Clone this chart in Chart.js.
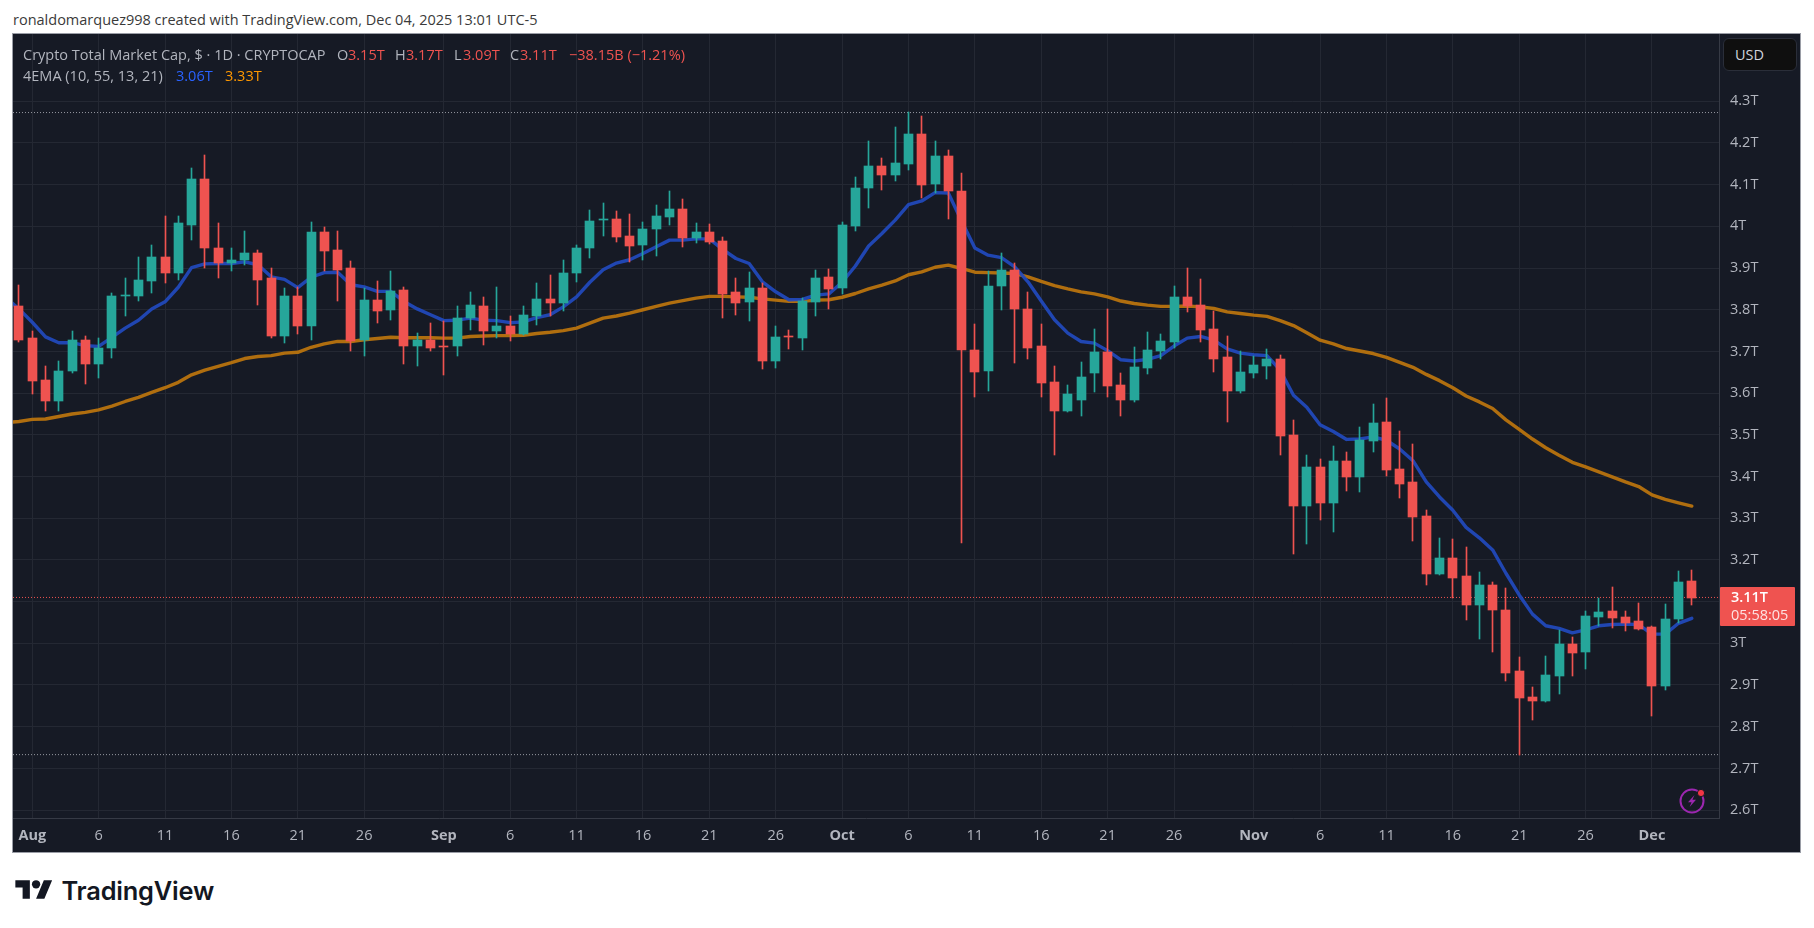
<!DOCTYPE html>
<html>
<head>
<meta charset="utf-8">
<title>Crypto Total Market Cap</title>
<script src="https://cdn.jsdelivr.net/npm/chart.js@4"></script>
<style>
  html, body { margin: 0; padding: 0; background: #fff; }
  body { width: 1814px; height: 928px; position: relative; overflow: hidden; font-family: "Open Sans", sans-serif; }
  #frame { position: absolute; left: 12px; top: 33px; width: 1787px; height: 818px; border: 1px solid #9a9da6; background: #161a25; }
  canvas { display: block; }
  .t { position: absolute; white-space: nowrap; font-size: 14.5px; line-height: 18px; color: #b2b5be; }
  .r { color: #ef5350; }
  #credit { left: 13px; top: 11px; color: #3a3a3a; }
  #usd { position: absolute; left: 1723px; top: 38px; width: 72px; height: 31px; border: 1px solid #2a2e39; border-radius: 6px; background: #0f0f0f; }
  #priceBox { position: absolute; left: 1720px; top: 587px; width: 75px; height: 39px; background: #ef5350; border-radius: 1px; }
  #tvText { position: absolute; left: 61.5px; top: 874px; font: 600 25.4px/34px Inter, sans-serif; letter-spacing: -0.2px; color: #131722; }
  svg { position: absolute; }
</style>
</head>
<body>
<div class="t" id="credit">ronaldomarquez998 created with TradingView.com, Dec 04, 2025 13:01 UTC-5</div>
<div id="frame"><canvas id="myChart" width="1787" height="818"></canvas></div>

<div class="t" style="left:23px;top:46px">Crypto Total Market Cap, $ · 1D · CRYPTOCAP</div>
<div class="t" style="left:337px;top:46px">O</div><div class="t r" style="left:348px;top:46px">3.15T</div>
<div class="t" style="left:395px;top:46px">H</div><div class="t r" style="left:406px;top:46px">3.17T</div>
<div class="t" style="left:454px;top:46px">L</div><div class="t r" style="left:463px;top:46px">3.09T</div>
<div class="t" style="left:510px;top:46px">C</div><div class="t r" style="left:520px;top:46px">3.11T</div>
<div class="t r" style="left:569px;top:46px">−38.15B (−1.21%)</div>
<div class="t" style="left:23px;top:67px">4EMA (10, 55, 13, 21)</div>
<div class="t" style="left:176px;top:67px;color:#2962ff">3.06T</div>
<div class="t" style="left:225px;top:67px;color:#ff9800">3.33T</div>

<div id="usd"></div>
<div class="t" style="left:1735px;top:46px;color:#d1d4dc">USD</div>
<div id="priceBox"></div>
<div class="t" style="left:1731px;top:588px;color:#fff;font-weight:600">3.11T</div>
<div class="t" style="left:1731px;top:606px;color:#fde3e3">05:58:05</div>

<svg style="left:1678px;top:787px" width="28" height="28" viewBox="0 0 28 28">
  <circle cx="14" cy="14" r="11.5" fill="none" stroke="#9c27b0" stroke-width="2"/>
  <path d="M16.5 8 10 15.2h3.6L11.6 20 18 12.8h-3.6z" fill="#9c27b0"/>
  <circle cx="23" cy="6" r="3.6" fill="#f23645" stroke="#161a25" stroke-width="1"/>
</svg>

<svg style="left:15px;top:876px" width="38" height="29" viewBox="0 0 36 28" fill="#131722">
  <path d="M14 22H7V11H0V4h14v18zM28 22h-8l7.5-18h8L28 22z"/><circle cx="20" cy="8" r="4"/>
</svg>
<div id="tvText">TradingView</div>

<script>
// daily candles, Jul 31 to Dec 4 2025, in trillions
const opens = [
  3.808,3.733,3.632,3.580,3.654,3.728,3.671,3.709,3.834,3.834,
  3.870,3.927,3.889,4.004,4.114,3.949,3.913,3.920,3.937,3.875,
  3.738,3.834,3.760,3.987,3.944,3.899,3.728,3.824,3.800,3.848,
  3.712,3.728,3.712,3.714,3.781,3.810,3.750,3.762,3.743,3.786,
  3.827,3.817,3.889,3.947,4.016,4.018,3.977,3.955,3.994,4.023,
  4.042,3.972,3.987,3.965,3.843,3.819,3.852,3.677,3.737,3.732,
  3.819,3.879,3.852,4.001,4.092,4.145,4.123,4.150,4.222,4.102,
  4.169,4.086,3.703,3.652,3.856,3.895,3.803,3.712,3.626,3.556,
  3.583,3.648,3.698,3.619,3.583,3.660,3.700,3.722,3.830,3.811,
  3.753,3.686,3.604,3.648,3.664,3.682,3.499,3.329,3.423,3.336,
  3.437,3.399,3.485,3.531,3.418,3.387,3.305,3.166,3.204,3.161,
  3.092,3.140,3.080,2.934,2.871,2.862,2.922,2.998,2.979,3.063,
  3.078,3.063,3.054,3.039,2.898,3.058,3.149
];
const highs = [
  3.860,3.750,3.666,3.676,3.748,3.736,3.733,3.841,3.877,3.927,
  3.956,4.026,4.026,4.141,4.170,4.007,3.949,3.990,3.944,3.899,
  3.853,3.855,4.011,3.999,3.990,3.918,3.851,3.870,3.894,3.855,
  3.745,3.769,3.772,3.808,3.843,3.831,3.855,3.786,3.808,3.863,
  3.884,3.920,3.956,4.040,4.056,4.037,4.030,4.011,4.051,4.085,
  4.066,4.008,4.006,3.975,3.876,3.891,3.864,3.761,3.752,3.828,
  3.896,3.898,4.011,4.119,4.205,4.164,4.238,4.274,4.265,4.205,
  4.183,4.127,3.767,3.892,3.935,3.911,3.842,3.767,3.664,3.619,
  3.674,3.753,3.801,3.648,3.710,3.746,3.741,3.856,3.899,3.873,
  3.796,3.736,3.700,3.688,3.705,3.691,3.535,3.451,3.442,3.473,
  3.459,3.519,3.574,3.588,3.509,3.478,3.319,3.252,3.250,3.231,
  3.171,3.147,3.133,2.967,2.895,2.970,3.032,3.015,3.078,3.109,
  3.135,3.078,3.097,3.042,3.094,3.173,3.176
];
const lows = [
  3.722,3.599,3.558,3.558,3.649,3.623,3.637,3.685,3.784,3.822,
  3.841,3.865,3.872,3.968,3.899,3.875,3.894,3.908,3.812,3.733,
  3.721,3.743,3.728,3.894,3.822,3.700,3.690,3.769,3.776,3.671,
  3.666,3.702,3.644,3.688,3.752,3.716,3.733,3.726,3.740,3.764,
  3.784,3.798,3.867,3.925,3.977,3.963,3.915,3.919,3.929,4.003,
  3.951,3.960,3.958,3.780,3.788,3.773,3.658,3.660,3.706,3.704,
  3.785,3.802,3.838,3.989,4.044,4.087,4.109,4.135,4.068,4.079,
  4.017,3.241,3.590,3.604,3.799,3.672,3.683,3.590,3.451,3.554,
  3.544,3.602,3.590,3.544,3.578,3.645,3.683,3.708,3.794,3.722,
  3.650,3.530,3.600,3.636,3.633,3.451,3.214,3.238,3.296,3.267,
  3.365,3.363,3.459,3.401,3.348,3.245,3.140,3.164,3.108,3.056,
  3.010,2.979,2.910,2.732,2.816,2.859,2.878,2.922,2.938,3.042,
  3.037,3.030,3.032,2.826,2.888,3.049,3.092
];
const closes = [
  3.728,3.630,3.580,3.654,3.728,3.671,3.709,3.834,3.836,3.872,
  3.927,3.889,4.007,4.114,3.949,3.911,3.920,3.937,3.872,3.738,
  3.834,3.760,3.987,3.942,3.896,3.726,3.824,3.798,3.846,3.712,
  3.728,3.709,3.710,3.781,3.812,3.750,3.762,3.743,3.788,3.827,
  3.817,3.889,3.949,4.014,4.018,3.975,3.953,3.994,4.025,4.042,
  3.972,3.987,3.963,3.838,3.816,3.852,3.677,3.735,3.735,3.821,
  3.876,3.850,4.003,4.092,4.145,4.123,4.152,4.222,4.099,4.169,
  4.086,3.703,3.650,3.856,3.895,3.801,3.708,3.624,3.556,3.597,
  3.638,3.698,3.616,3.583,3.662,3.703,3.724,3.830,3.808,3.751,
  3.683,3.604,3.650,3.667,3.681,3.497,3.329,3.423,3.336,3.437,
  3.399,3.487,3.528,3.415,3.382,3.303,3.166,3.204,3.156,3.092,
  3.140,3.080,2.929,2.869,2.862,2.924,2.998,2.977,3.066,3.075,
  3.061,3.049,3.034,2.898,3.058,3.147,3.109
];
// the EMAs start one day earlier (Jul 30) so they run off the left edge
const emaFast = [
  3.830,
  3.802,3.770,3.735,3.721,3.721,3.714,3.712,3.734,3.756,3.775,
  3.802,3.819,3.854,3.901,3.910,3.911,3.911,3.915,3.908,3.879,
  3.873,3.853,3.878,3.889,3.890,3.860,3.855,3.844,3.844,3.820,
  3.802,3.788,3.774,3.775,3.780,3.775,3.774,3.769,3.771,3.781,
  3.788,3.807,3.831,3.866,3.896,3.912,3.920,3.935,3.951,3.967,
  3.967,3.970,3.970,3.945,3.923,3.911,3.867,3.843,3.824,3.825,
  3.835,3.838,3.866,3.905,3.953,3.983,4.015,4.052,4.061,4.081,
  4.080,4.013,3.948,3.931,3.925,3.903,3.867,3.821,3.776,3.744,
  3.724,3.720,3.702,3.680,3.677,3.681,3.690,3.713,3.732,3.736,
  3.727,3.706,3.696,3.692,3.690,3.655,3.595,3.566,3.524,3.508,
  3.489,3.490,3.495,3.487,3.466,3.438,3.387,3.351,3.319,3.278,
  3.253,3.224,3.168,3.116,3.070,3.042,3.036,3.025,3.032,3.042,
  3.045,3.046,3.045,3.022,3.022,3.048,3.060
];
const emaSlow = [
  3.529,
  3.532,3.537,3.538,3.544,3.550,3.554,3.560,3.569,3.580,3.590,
  3.602,3.613,3.626,3.644,3.655,3.664,3.673,3.683,3.688,3.690,
  3.696,3.698,3.710,3.718,3.724,3.724,3.728,3.731,3.734,3.733,
  3.733,3.733,3.732,3.732,3.736,3.737,3.738,3.738,3.739,3.743,
  3.746,3.750,3.756,3.768,3.780,3.785,3.792,3.800,3.808,3.816,
  3.822,3.828,3.832,3.832,3.831,3.830,3.826,3.823,3.820,3.820,
  3.823,3.824,3.830,3.839,3.850,3.859,3.869,3.884,3.891,3.902,
  3.907,3.899,3.890,3.889,3.888,3.887,3.879,3.868,3.858,3.850,
  3.843,3.838,3.831,3.821,3.815,3.811,3.808,3.808,3.809,3.807,
  3.803,3.795,3.791,3.787,3.784,3.774,3.762,3.745,3.727,3.718,
  3.707,3.701,3.695,3.686,3.674,3.662,3.645,3.630,3.613,3.593,
  3.579,3.563,3.536,3.513,3.490,3.469,3.451,3.434,3.423,3.411,
  3.399,3.387,3.376,3.356,3.345,3.337,3.329
];
const priceTicks = [2.6,2.7,2.8,2.9,3.0,3.1,3.2,3.3,3.4,3.5,3.6,3.7,3.8,3.9,4.0,4.1,4.2,4.3];
const dayTicks = [1,6,11,16,21,26,32,37,42,47,52,57,62,67,72,77,82,87,93,98,103,108,113,118,123];
const dayLabels = ["Aug","6","11","16","21","26","Sep","6","11","16","21","26","Oct","6","11","16","21","26","Nov","6","11","16","21","26","Dec"];
const highLine = 4.273;
const lowLine = 2.733;
const lastPrice = 3.11;

const UP = "#26a69a", DOWN = "#ef5350";
const candleColor = opens.map((o, i) => (closes[i] >= o ? UP : DOWN));
const xMin = -0.45, xMax = 128.05;

const hline = (value, color, order) => ({
  type: "line",
  data: [{ x: xMin, y: value }, { x: xMax, y: value }],
  borderColor: color,
  borderWidth: 1,
  borderDash: [1, 2],
  pointRadius: 0,
  order: order,
});
const emaLine = (values, color) => ({
  type: "line",
  data: values.map((v, i) => ({ x: i - 1, y: v })),
  borderColor: color,
  borderWidth: 3.4,
  borderCapStyle: "round",
  borderJoinStyle: "round",
  pointRadius: 0,
  tension: 0,
  order: 3,
});

// keep candles on whole pixels so wicks stay sharp
const snapCandles = {
  id: "snapCandles",
  afterDatasetsUpdate(chart) {
    chart.getSortedVisibleDatasetMetas().forEach((meta) => {
      if (meta.type !== "bar") return;
      meta.data.forEach((bar) => {
        bar.x = Math.floor(bar.x) + 0.5;
        bar.y = Math.round(bar.y);
        bar.base = Math.round(bar.base);
        if (bar.y === bar.base) bar.base = bar.y + 1;
      });
    });
  },
};

// tick labels may hang over the pane edge, so no room is reserved for them
const noPadding = (scale) => {
  scale.paddingTop = scale.paddingBottom = scale.paddingLeft = scale.paddingRight = 0;
};

const config = {
  type: "bar",
  data: {
    datasets: [
      {
        data: opens.map((o, i) => ({ x: i, y: [o, closes[i]] })),
        backgroundColor: candleColor,
        barThickness: 9,
        grouped: false,
        order: 1,
      },
      {
        data: highs.map((h, i) => ({ x: i, y: [lows[i], h] })),
        backgroundColor: candleColor,
        barThickness: 1,
        grouped: false,
        order: 2,
      },
      emaLine(emaFast, "rgba(34,74,190,0.92)"),
      emaLine(emaSlow, "rgba(184,115,14,0.95)"),
      hline(highLine, "#9598a1", 4),
      hline(lowLine, "#9598a1", 4),
      hline(lastPrice, DOWN, 4),
    ],
  },
  options: {
    responsive: false,
    animation: false,
    devicePixelRatio: 1,
    layout: { padding: 0, autoPadding: false },
    plugins: { legend: { display: false }, tooltip: { enabled: false } },
    scales: {
      x: {
        type: "linear",
        offset: false,
        min: xMin,
        max: xMax,
        afterBuildTicks: (scale) => { scale.ticks = dayTicks.map((value) => ({ value })); },
        afterFit: (scale) => { scale.height = 34; noPadding(scale); },
        grid: { color: "#242833", drawTicks: false, offset: false },
        border: { color: "#363a45" },
        ticks: {
          autoSkip: false,
          maxRotation: 0,
          padding: 9,
          color: "#b2b5be",
          font: (ctx) => ({
            family: "'Open Sans', sans-serif",
            size: 14.5,
            weight: ctx.tick && isNaN(ctx.tick.label) ? "bold" : "normal",
          }),
          callback: (v) => dayLabels[dayTicks.indexOf(v)],
        },
      },
      y: {
        position: "right",
        bounds: "data",
        min: 2.581,
        max: 4.4614,
        afterBuildTicks: (scale) => { scale.ticks = priceTicks.map((value) => ({ value })); },
        afterFit: (scale) => { scale.width = 81; noPadding(scale); },
        grid: { color: "#242833", drawTicks: false },
        border: { color: "#363a45" },
        ticks: {
          autoSkip: false,
          padding: 11,
          color: "#b2b5be",
          font: { family: "'Open Sans', sans-serif", size: 14.5 },
          // 3.1T sits under the last price tag
          callback: (v) => (v === 3.1 ? "" : v + "T"),
        },
      },
    },
  },
  plugins: [snapCandles],
};
const ctx = document.getElementById("myChart").getContext("2d");
const myChart = new Chart(ctx, config);
</script>
</body>
</html>
